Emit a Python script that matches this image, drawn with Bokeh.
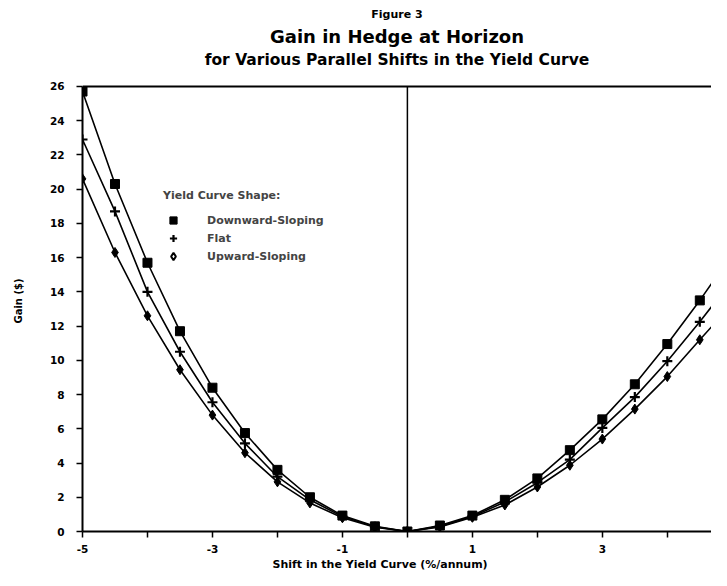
import numpy as np
from bokeh.plotting import figure
from bokeh.models import FixedTicker, Range1d, Legend, LegendItem, Title
from bokeh.embed import file_html
from bokeh.resources import INLINE

# ---- data ----
shift = [-5, -4.5, -4, -3.5, -3, -2.5, -2, -1.5, -1, -0.5, 0,
         0.5, 1, 1.5, 2, 2.5, 3, 3.5, 4, 4.5, 5]
downward = [25.7, 20.3, 15.7, 11.7, 8.4, 5.75, 3.6, 2.0, 0.93, 0.3, 0.0,
            0.35, 0.93, 1.85, 3.1, 4.75, 6.55, 8.6, 10.95, 13.5, 16.2]
flat = [22.9, 18.7, 14.0, 10.5, 7.55, 5.15, 3.2, 1.85, 0.87, 0.28, 0.0,
        0.3, 0.88, 1.72, 2.85, 4.2, 6.05, 7.85, 9.95, 12.25, 14.7]
upward = [20.6, 16.3, 12.6, 9.45, 6.8, 4.6, 2.9, 1.67, 0.8, 0.25, 0.0,
          0.27, 0.83, 1.55, 2.6, 3.87, 5.4, 7.15, 9.05, 11.2, 13.3]

x_ticks = [-5, -4, -3, -2, -1, 0, 1, 2, 3, 4]
x_tick_labels = {-5: "-5", -4: "", -3: "-3", -2: "", -1: "-1", 0: "",
                 1: "1", 2: "", 3: "3", 4: ""}
y_ticks = [0, 2, 4, 6, 8, 10, 12, 14, 16, 18, 20, 22, 24, 26]

series_names = ["Downward-Sloping", "Flat", "Upward-Sloping"]

FONT = "DejaVu Sans"
Y_TOP = y_ticks[-1]

p = figure(width=711, height=570, output_backend="svg", toolbar_location=None,
           x_range=Range1d(shift[0], 4.68), y_range=Range1d(y_ticks[0], 26.93),
           min_border_left=82, min_border_right=0, min_border_top=70,
           min_border_bottom=39)
p.outline_line_color = None
p.background_fill_color = "white"
p.border_fill_color = "white"
p.xgrid.visible = False
p.ygrid.visible = False

for ax in (p.xaxis[0], p.yaxis[0]):
    ax.axis_line_width = 2
    ax.axis_line_color = "black"
    ax.major_tick_line_width = 1.5
    ax.major_tick_line_color = "black"
    ax.major_tick_in = 0
    ax.major_tick_out = 6
    ax.minor_tick_line_color = None
    ax.major_label_text_font = FONT
    ax.major_label_text_font_style = "bold"
    ax.major_label_text_font_size = "10.5px"
    ax.major_label_text_color = "black"

p.xaxis.ticker = FixedTicker(ticks=x_ticks)
p.xaxis.major_label_overrides = x_tick_labels
p.xaxis.major_label_standoff = 7
p.yaxis.ticker = FixedTicker(ticks=y_ticks)
p.yaxis.major_label_standoff = 12
p.yaxis.bounds = (y_ticks[0], Y_TOP)
p.yaxis.axis_label = "Gain ($)"
p.yaxis.axis_label_text_font = FONT
p.yaxis.axis_label_text_font_style = "bold"
p.yaxis.axis_label_text_font_size = "10px"
p.yaxis.axis_label_text_color = "black"
p.yaxis.axis_label_standoff = 23

# frame lines: top border and vertical line at zero shift
p.segment(x0=[shift[0]], y0=[Y_TOP], x1=[shift[-1]], y1=[Y_TOP],
          line_color="black", line_width=2)
p.segment(x0=[0], y0=[0], x1=[0], y1=[Y_TOP], line_color="black", line_width=1.5)

for ys in (downward, flat, upward):
    p.line(shift, ys, line_color="black", line_width=1.6)

p.scatter(shift, downward, marker="square", size=9, fill_color="black", line_color="black")
p.scatter(shift, flat, marker="cross", size=10, line_color="black", line_width=2.2)
p.scatter(shift, upward, marker="diamond", size=10, fill_color="black", line_color="black")

# legend glyph proxies (not drawn in the frame)
nan = np.array([np.nan])
lg_sq = p.scatter(nan, nan, marker="square", size=9, fill_color="black", line_color="black")
lg_cr = p.scatter(nan, nan, marker="cross", size=10, line_color="black", line_width=2.2)
lg_di = p.scatter(nan, nan, marker="diamond", size=10, fill_color="white",
                  line_color="black", line_width=2)

legend = Legend(items=[LegendItem(label=series_names[0], renderers=[lg_sq]),
                       LegendItem(label=series_names[1], renderers=[lg_cr]),
                       LegendItem(label=series_names[2], renderers=[lg_di])],
                location=(81, 266), title="Yield Curve Shape:")
legend.title_text_font = FONT
legend.title_text_font_style = "bold"
legend.title_text_font_size = "11px"
legend.title_standoff = 9
legend.label_text_font = FONT
legend.label_text_font_style = "bold"
legend.label_text_font_size = "11px"
legend.label_standoff = 24
legend.glyph_width = 20
legend.glyph_height = 18
legend.label_height = 18
legend.spacing = 0
legend.padding = 5
legend.margin = 0
legend.border_line_color = None
legend.background_fill_alpha = 0
p.add_layout(legend)

# x-axis title
p.add_layout(Title(text="Shift in the Yield Curve (%/annum)", text_font=FONT,
                   text_font_style="bold", text_font_size="11px", align="left",
                   offset=190, standoff=0, text_color="black"), "below")

# titles on top (inner first)
p.add_layout(Title(text="for Various Parallel Shifts in the Yield Curve", text_font=FONT,
                   text_font_style="bold", text_font_size="15.5px", align="center",
                   standoff=4, text_color="black"), "above")
p.add_layout(Title(text="Gain in Hedge at Horizon", text_font=FONT,
                   text_font_style="bold", text_font_size="18px", align="center",
                   standoff=0, text_color="black"), "above")
p.add_layout(Title(text="Figure 3", text_font=FONT, text_font_style="bold",
                   text_font_size="11px", align="center", standoff=6,
                   text_color="black"), "above")

open("out.html", "w").write(file_html(p, INLINE))
